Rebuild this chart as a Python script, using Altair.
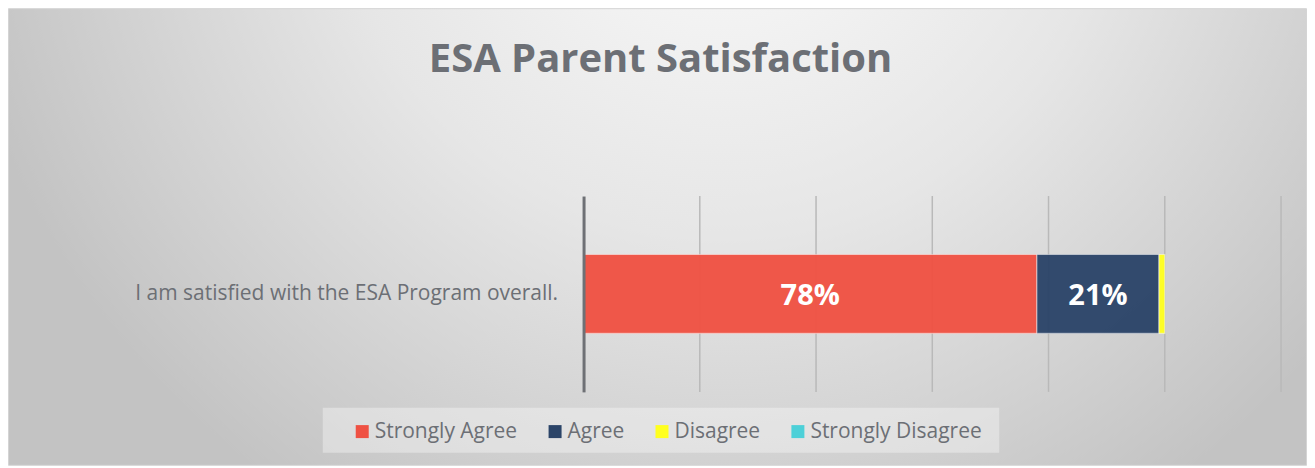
import altair as alt
import pandas as pd

# ---- data ----
title_text = "ESA Parent Satisfaction"
question = "I am satisfied with the ESA Program overall."
responses = ["Strongly Agree", "Agree", "Disagree", "Strongly Disagree"]
shares = [78, 21, 1, 0]
colors = ["#ef5143", "#2b4468", "#ffff1f", "#4dd0d8"]
grid_ticks = [20, 40, 60, 80, 100, 120]

# ---- layout / style ----
W, H = 698, 196
PAD = {"left": 576, "top": 188, "right": 26, "bottom": 74}
TEXT = "#6c6f75"
FONT = "Open Sans"

df = pd.DataFrame({
    "question": [question] * len(responses),
    "response": responses,
    "share": shares,
    "order": list(range(len(responses))),
})
one = pd.DataFrame({"k": [0]})

x_scale = alt.Scale(domain=[0, 120], nice=False, zero=True)

bg = alt.Chart(one).mark_rect(
    fill={
        "gradient": "radial",
        "x1": 0.55, "y1": 0.2, "r1": 0,
        "x2": 0.55, "y2": 0.2, "r2": 0.6,
        "stops": [
            {"offset": 0, "color": "#fcfcfc"},
            {"offset": 0.5, "color": "#e6e6e6"},
            {"offset": 1, "color": "#c3c3c3"},
        ],
    },
    stroke="#d4d4d4",
    strokeWidth=1,
).encode(
    x=alt.value(-PAD["left"] + 0.5),
    x2=alt.value(W + PAD["right"] - 0.5),
    y=alt.value(-PAD["top"] + 0.5),
    y2=alt.value(H + PAD["bottom"] - 0.5),
)

grid = alt.Chart(pd.DataFrame({"tick": grid_ticks})).mark_rule(
    color="#b9b9b9", strokeWidth=1.5
).encode(x=alt.X("tick:Q", scale=x_scale, axis=None))

legbox = alt.Chart(one).mark_rect(fill="white", fillOpacity=0.35).encode(
    x=alt.value(-261), x2=alt.value(416), y=alt.value(212), y2=alt.value(257)
)

base = alt.Chart(df).transform_stack(
    stack="share",
    groupby=["question"],
    sort=[alt.SortField("order")],
    as_=["s0", "s1"],
).transform_calculate(
    mid="(datum.s0 + datum.s1) / 2",
    label="datum.share + '%'",
)

y_enc = alt.Y(
    "question:N",
    axis=alt.Axis(
        title=None, ticks=False, tickSize=0, grid=False,
        domain=True, domainColor="#6e7075", domainWidth=3,
        labelFont=FONT, labelFontSize=21, labelColor=TEXT,
        labelPadding=26, labelLimit=700, zindex=1,
    ),
)

color_enc = alt.Color(
    "response:N",
    scale=alt.Scale(domain=responses, range=colors),
    legend=alt.Legend(
        title=None, orient="none", legendX=-232, legendY=225,
        direction="horizontal", symbolType="square", symbolSize=169,
        symbolStrokeWidth=0, labelFont=FONT, labelFontSize=21,
        labelColor=TEXT, labelOffset=2, columnPadding=27, padding=0,
        labelLimit=400,
    ),
)

bars = base.transform_filter("datum.share > 0").mark_bar(
    size=79, stroke="white", strokeOpacity=0.45, strokeWidth=1.2, fillOpacity=0.96
).encode(
    x=alt.X("s0:Q", scale=x_scale, axis=None),
    x2="s1:Q",
    y=y_enc,
    color=color_enc,
)

labels = base.transform_filter("datum.share >= 5").mark_text(
    font=FONT, fontWeight="bold", fontSize=29, color="white",
    baseline="middle", dy=2,
).encode(
    x=alt.X("mid:Q", scale=x_scale),
    y=alt.Y("question:N"),
    text="label:N",
)

chart = alt.layer(bg, grid, legbox, bars, labels).properties(
    width=W,
    height=H,
    padding=PAD,
    autosize="none",
    title=alt.TitleParams(
        text=title_text, font=FONT, fontSize=40, fontWeight="bold",
        color=TEXT, anchor="middle", frame="bounds", offset=0,
        baseline="alphabetic", dy=104, dx=3,
    ),
).configure_view(stroke=None)

chart.save("out.html", embed_options={"renderer": "svg", "actions": False})
